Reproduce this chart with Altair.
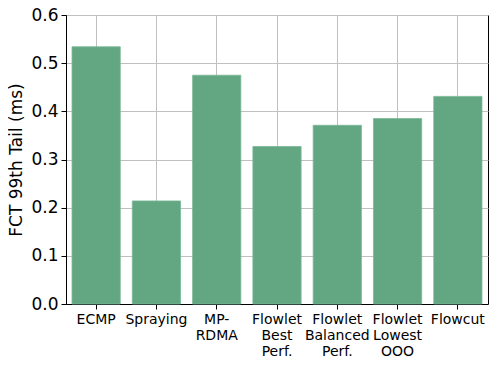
import altair as alt
import pandas as pd

categories = ["ECMP", "Spraying", "MP-\nRDMA", "Flowlet\nBest\nPerf.",
              "Flowlet\nBalanced\nPerf.", "Flowlet\nLowest\nOOO", "Flowcut"]
values = [0.534, 0.214, 0.475, 0.327, 0.371, 0.385, 0.431]
y_ticks = [0.0, 0.1, 0.2, 0.3, 0.4, 0.5, 0.6]

df = pd.DataFrame({"method": categories, "fct": values})

chart = alt.Chart(df).mark_bar(color="#62a682", stroke="#7ab897", strokeWidth=0.8).encode(
    x=alt.X("method:N", sort=categories, title=None,
            scale=alt.Scale(paddingInner=0.2, paddingOuter=0.1),
            axis=alt.Axis(labelAngle=0, labelExpr="split(datum.label, '\\n')",
                          labelFont="DejaVu Sans", labelFontSize=14, labelColor="black",
                          labelLineHeight=16, labelPadding=3, tickSize=5,
                          tickColor="black", domainColor="black", gridColor="#c0c0c0",
                          grid=True, gridWidth=1, labelBaseline="top")),
    y=alt.Y("fct:Q", title="FCT 99th Tail (ms)",
            scale=alt.Scale(domain=[0, 0.6], nice=False),
            axis=alt.Axis(values=y_ticks, format=".1f", labelFont="DejaVu Sans",
                          labelFontSize=17, labelColor="black", tickSize=5,
                          tickColor="black", domainColor="black", gridColor="#c0c0c0",
                          gridWidth=1, titleFont="DejaVu Sans", titleFontSize=17,
                          titleFontWeight="normal", titleColor="black", titlePadding=5,
                          labelPadding=3)),
).properties(
    width=422, height=289,
    autosize=alt.AutoSizeParams(type="none"),
    padding={"left": 58, "top": 7, "right": 2, "bottom": 54},
).configure_view(stroke="black", strokeWidth=1).configure_axis(domainWidth=1, tickWidth=1)

chart.save("out.html", embed_options={"renderer": "svg", "actions": False})
